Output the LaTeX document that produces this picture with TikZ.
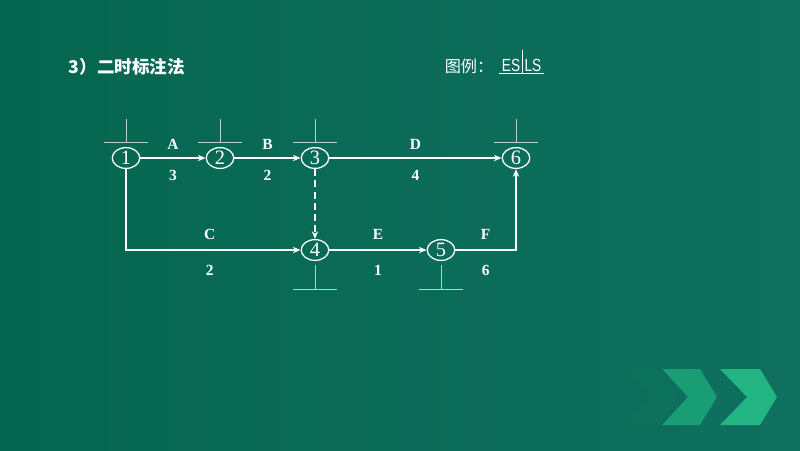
\documentclass[tikz,border=0pt]{standalone}
\usepackage{fontspec}
\setmainfont{Liberation Serif}
\newfontfamily\cjk{Noto Sans CJK SC}
\newfontfamily\lsans[FakeStretch=0.78]{Liberation Sans}
\usetikzlibrary{calc,shapes.geometric,arrows.meta}
\definecolor{bgl}{HTML}{05664F}
\definecolor{bgr}{HTML}{107060}
\definecolor{tickc}{HTML}{B5D3C8}
\definecolor{chv}{HTML}{22B583}

\begin{document}
\begin{tikzpicture}[x=0.025cm,y=-0.025cm,
	evt/.style={ellipse,draw=white,line width=0.9pt,minimum width=19.6pt,minimum height=14.8pt,inner sep=0pt,text=white,font=\fontsize{14.5}{14.5}\selectfont},
	act/.style={draw=white,line width=1pt,-{Stealth[length=5.5pt,width=4.5pt]}},
	dum/.style={act,dash pattern=on 5pt off 3pt},
	tick/.style={draw=tickc,line width=0.7pt},
	lab/.style={text=white,font=\bfseries\fontsize{11}{11}\selectfont},
	tup/.style={lab,yshift=9.5pt},
	tdn/.style={lab,yshift=-12.5pt}]
			%%%%% START %%%%%
			
			\shade[left color=bgl,right color=bgr] (0,0) rectangle (800,450);
			\useasboundingbox (0,0) rectangle (800,450);
			
			% chevrons
			\fill[bgl!80!chv, opacity=0.6] (627,369) -- (660,369) -- (677,397) -- (660,425) -- (627,425) -- (652,397) -- cycle;
			\fill[chv!70!bgl] (662,369) -- (700,369) -- (717,397) -- (700,425) -- (662,425) -- (688,397) -- cycle;
			\fill[chv] (720,369) -- (760,369) -- (777,397) -- (760,425) -- (720,425) -- (747,397) -- cycle;
			
			% title and legend
			\node[anchor=west,text=white,font=\cjk\bfseries\fontsize{12.5}{12.5}\selectfont] (ttl) at (64,67) {3）二时标注法};
			\node[text=white,font=\cjk\fontsize{11.5}{11.5}\selectfont] (lgd) at (469,66) {图例：};
			\node[text=white,font=\lsans\fontsize{12.5}{12.5}\selectfont,inner sep=1pt] (es) at (511,65) {ES};
			\node[text=white,font=\lsans\fontsize{12.5}{12.5}\selectfont,inner sep=1pt] (ls) at (533,65) {LS};
			\coordinate (sep) at ($(es.east)!0.5!(ls.west)$);
			\draw[white,line width=0.7pt] ([xshift=-1pt]es.west |- 0,73) -- ([xshift=1pt]ls.east |- 0,73);
			\draw[white,line width=0.7pt] (sep |- 0,50) -- (sep |- 0,73);
			
			% events
			\node[evt] (n1) at (126,158) {1};
			\node[evt] (n2) at (220,158) {2};
			\node[evt] (n3) at (315,158) {3};
			\node[evt] (n6) at (516,158) {6};
			\node[evt] (n4) at (315,250) {4};
			\node[evt] (n5) at (441,250) {5};
			
			% time marks
			\foreach \n in {n1,n2,n3,n6}
				\draw[tick] ($(\n.north)+(-22,-4)$) -- ++(44,0) ($(\n.north)+(0,-4)$) -- ++(0,-24);
			\foreach \n in {n4,n5}
				\draw[tick] ($(\n.south)+(-22,28)$) -- ++(44,0) ($(\n.south)+(0,28)$) -- ++(0,-24);
			
			% activities
			\draw[act] (n1) -- node[tup]{A} node[tdn]{3} (n2);
			\draw[act] (n2) -- node[tup]{B} node[tdn]{2} (n3);
			\draw[act] (n3) -- node[tup]{D} node[tdn]{4} (n6);
			\draw[dum] (n3) -- (n4);
			\draw[act] (n1.south) |- node[pos=0.74,tup,yshift=1.5pt]{C} node[pos=0.74,tdn,yshift=-2pt]{2} (n4);
			\draw[act] (n4) -- node[tup,yshift=1.5pt]{E} node[tdn,yshift=-2pt]{1} (n5);
			\draw[act] (n5) -| node[pos=0.25,tup,yshift=1.5pt]{F} node[pos=0.25,tdn,yshift=-2pt]{6} (n6.south);
			
			%%%%% END %%%%%
\end{tikzpicture}
\end{document}
